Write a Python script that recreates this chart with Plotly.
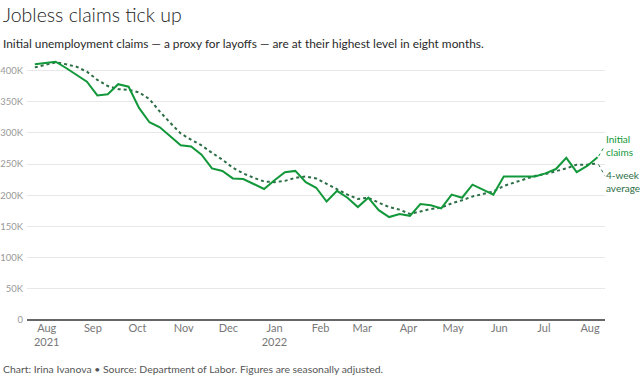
import pandas as pd
import plotly.graph_objects as go

# Weekly data, weeks ending Saturday, Jul 24 2021 .. Aug 6 2022
week_ending = pd.date_range("2021-07-24", periods=55, freq="7D")

initial_claims = [
    410, 412, 414, 404, 393, 382, 360, 362, 378, 374,
    340, 317, 309, 294, 280, 278, 265, 243, 239, 227,
    226, 218, 210, 224, 237, 239, 221, 212, 190, 207,
    196, 181, 196, 176, 165, 170, 167, 186, 184, 179,
    201, 196, 217, 209, 201, 230, 230, 231, 230, 235,
    242, 260, 237, 247, 261,
]
initial_claims = [v * 1000 for v in initial_claims]

four_week_avg = [
    405, 409, 413, 410, 406, 398, 385, 375, 370, 369,
    365, 354, 334, 316, 299, 289, 280, 268, 257, 244,
    235, 228, 222, 221, 223, 228, 230, 227, 218, 209,
    201, 194, 196, 188, 181, 177, 170, 174, 178, 180,
    187, 192, 198, 202, 206, 215, 220, 226, 231, 234,
    238, 243, 249, 249, 251,
]
four_week_avg = [v * 1000 for v in four_week_avg]

x_tick_vals = ["2021-08-01", "2021-09-01", "2021-10-01", "2021-11-01", "2021-12-01",
               "2022-01-01", "2022-02-01", "2022-03-01", "2022-04-01", "2022-05-01",
               "2022-06-01", "2022-07-01", "2022-08-01"]
x_tick_text = ["Aug<br>2021", "Sep", "Oct", "Nov", "Dec", "Jan<br>2022", "Feb",
               "Mar", "Apr", "May", "Jun", "Jul", "Aug"]

y_tick_vals = [0, 50000, 100000, 150000, 200000, 250000, 300000, 350000, 400000]
y_tick_text = ["0", "50K", "100K", "150K", "200K", "250K", "300K", "350K", "400K"]

GREEN = "#12983a"
DARK_GREEN = "#2c6e45"
FONT = "Lato"

fig = go.Figure()
fig.add_trace(go.Scatter(x=week_ending, y=four_week_avg, mode="lines",
                         line=dict(color=DARK_GREEN, width=2, dash="dot"),
                         name="4-week average", hoverinfo="skip"))
fig.add_trace(go.Scatter(x=week_ending, y=initial_claims, mode="lines",
                         line=dict(color=GREEN, width=2),
                         name="Initial claims", hoverinfo="skip"))

last_x = week_ending[-1]

# end labels with dotted leader lines
fig.add_shape(type="line", xref="x", yref="y", xsizemode="pixel", ysizemode="pixel",
              xanchor=last_x, yanchor=initial_claims[-1],
              x0=1, y0=1, x1=7, y1=11,
              line=dict(color=GREEN, width=1, dash="dot"))
fig.add_shape(type="line", xref="x", yref="y", xsizemode="pixel", ysizemode="pixel",
              xanchor=last_x, yanchor=four_week_avg[-1],
              x0=1, y0=-1, x1=7, y1=-12,
              line=dict(color=DARK_GREEN, width=1, dash="dot"))

fig.add_annotation(x=last_x, y=initial_claims[-1], xref="x", yref="y",
                   text="Initial<br>claims", showarrow=False, xanchor="left", yanchor="middle",
                   xshift=6, yshift=12, align="left",
                   font=dict(family=FONT, size=10, color=GREEN))
fig.add_annotation(x=last_x, y=four_week_avg[-1], xref="x", yref="y",
                   text="4-week<br>average", showarrow=False, xanchor="left", yanchor="middle",
                   xshift=6, yshift=-18, align="left",
                   font=dict(family=FONT, size=10, color=DARK_GREEN))

# title, subtitle, footer
fig.add_annotation(text="Jobless claims tick up", xref="paper", yref="paper",
                   x=-0.045, y=1.165, xanchor="left", yanchor="middle", showarrow=False,
                   font=dict(family=FONT, size=19.5, color="#222222", weight=300))
fig.add_annotation(text="Initial unemployment claims — a proxy for layoffs — are at their highest level in eight months.",
                   xref="paper", yref="paper", x=-0.045, y=1.057, xanchor="left", yanchor="middle",
                   showarrow=False, font=dict(family=FONT, size=11.9, color="#2a2a2a"))
fig.add_annotation(text="Chart: Irina Ivanova • Source: Department of Labor. Figures are seasonally adjusted.",
                   xref="paper", yref="paper", x=-0.045, y=-0.186, xanchor="left", yanchor="middle",
                   showarrow=False, font=dict(family=FONT, size=10.4, color="#555555"))

fig.update_layout(
    width=640, height=379,
    margin=dict(l=27, r=35, t=58, b=59),
    paper_bgcolor="white", plot_bgcolor="white",
    showlegend=False,
    font=dict(family=FONT),
    xaxis=dict(type="date", range=["2021-07-18 18:00", "2022-08-11"],
               tickvals=x_tick_vals, ticktext=x_tick_text, ticks="",
               showgrid=False, zeroline=False, showline=False, automargin=False,
               tickfont=dict(family=FONT, size=11, color="#777777")),
    yaxis=dict(range=[0, 420000], tickvals=y_tick_vals, ticktext=y_tick_text,
               showgrid=True, gridcolor="#e8e8e8", gridwidth=1,
               zeroline=True, zerolinecolor="#666666", zerolinewidth=1.5,
               showline=False, ticks="", ticklabelstandoff=3, automargin=False,
               tickfont=dict(family=FONT, size=9.5, color="#999999")),
)

fig.write_html("out.html", config={"displayModeBar": False},
               post_script="document.body.style.margin='0';document.body.style.overflow='hidden';")
